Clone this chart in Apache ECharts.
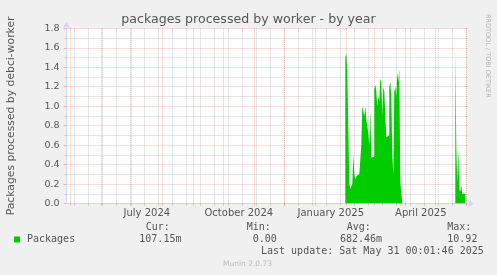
<!DOCTYPE html>
<html><head><meta charset="utf-8">
<script src="https://cdn.jsdelivr.net/npm/echarts@6/dist/echarts.min.js"></script>
<style>html,body{margin:0;padding:0;background:#F0F0F0}#c{width:497px;height:275px}</style>
</head><body><div id="c"></div>
<script>
const DAY = 86400000;
function utc(s){const p=s.split('-').map(Number);return Date.UTC(p[0],p[1]-1,p[2]);}

// Daily averages, first block starting 2025-01-31
const block1Start = '2025-01-31';
const block1Values = [1.5,1.55,1.34,1.32,0.2,0.15,0.14,0.2,0.5,0.3,
  0.25,0.28,0.26,0.3,0.28,0.32,0.6,1.0,0.95,0.9,
  1.0,0.85,0.8,0.72,0.6,0.95,0.47,0.46,0.48,1.18,
  1.22,1.15,1.0,1.1,1.05,1.28,1.25,0.9,1.2,1.15,
  0.9,0.68,0.66,0.7,1.2,1.25,1.1,0.5,0.3,1.15,
  1.2,1.1,1.35,1.25,1.38,0.22];
// Second block starting 2025-05-21
const block2Start = '2025-05-21';
const block2Values = [1.6,0.57,0.22,0.55,0.15,0.12,0.18,0.1,0.08,0.1];

const seriesName = 'Packages';
const titleText = 'packages processed by worker - by year';
const yName = 'Packages processed by debci-worker';
const yMin = 0, yMax = 1.8, yStep = 0.2;
const xLabelNames = ['July 2024','October 2024','January 2025','April 2025'];
const xLabelMonths = ['2024-07-01','2024-10-01','2025-01-01','2025-04-01'];
const statHeads = ['Cur:','Min:','Avg:','Max:'];
const statValues = ['107.15m','0.00','682.46m','10.92'];
const lastUpdate = 'Last update: Sat May 31 00:01:46 2025';

// axis range: ~401 days
const firstMonth = '2024-05-01';
const xMin = utc(firstMonth) - 3.8*DAY;
const xMax = xMin + 401*DAY;

function buildBlock(start, vals){
  const t0 = utc(start);
  const out = vals.map((v,i)=>[t0+i*DAY, v]);
  out.push([t0+vals.length*DAY, vals[vals.length-1]]);
  return out;
}
const b1 = buildBlock(block1Start, block1Values);
const b2 = buildBlock(block2Start, block2Values);
const data = b1.concat([[b1[b1.length-1][0]+DAY, null]], b2);

// grid positions
const monthStarts = [];
for (let i=0;i<14;i++){ monthStarts.push(Date.UTC(2024,4+i,1)); }
const biweekly = [];
for (let t=utc('2024-05-05'); t<xMax; t+=14*DAY){ biweekly.push(t); }
const labelTs = xLabelMonths.map(s=>utc(s)+15.5*DAY);

const RED = 'rgba(235,90,90,0.42)';
const GREY = 'rgba(140,140,140,0.42)';
const AXIS = '#CFD6F8';
const FONT = '#555';

const chart = echarts.init(document.getElementById('c'));
const statX = [[145.7,139.3],[246.7,252.7],[346.7,340],[447.3,447.3]];
const graphics = [];
statHeads.forEach((h,i)=>{
  graphics.push({type:'text', x:statX[i][0], y:227.7, style:{text:h, font:'10px "DejaVu Sans Mono"', fill:FONT, textVerticalAlign:'middle'}});
  graphics.push({type:'text', x:statX[i][1], y:239.5, style:{text:statValues[i], font:'10px "DejaVu Sans Mono"', fill:FONT, textVerticalAlign:'middle'}});
});
graphics.push({type:'text', x:261, y:251, style:{text:lastUpdate, font:'10px "DejaVu Sans Mono"', fill:FONT, textVerticalAlign:'middle'}});
graphics.push({type:'text', x:223, y:264.5, style:{text:'Munin 2.0.73', font:'7.5px "DejaVu Sans"', fill:'#bbb', textVerticalAlign:'middle'}});
graphics.push({type:'text', x:488, y:14, rotation:-Math.PI/2, style:{text:'RRDTOOL / TOBI OETIKER', font:'6.5px "DejaVu Sans"', fill:'#b4b4b4', textVerticalAlign:'middle'}});

chart.setOption({
  backgroundColor:'#F0F0F0',
  animation:false,
  title:{text:titleText, left:'center', top:13.5, padding:0, textStyle:{fontFamily:'DejaVu Sans', fontSize:12.6, fontWeight:'normal', color:FONT}},
  legend:{data:[seriesName], left:14, top:234.5, padding:0, icon:'rect', itemWidth:6, itemHeight:6, itemGap:0,
    textStyle:{fontFamily:'DejaVu Sans Mono', fontSize:10, color:FONT, padding:[0,0,0,2]}},
  grid:{left:66.5, right:29.5, top:28.3, bottom:71.5, show:true, backgroundColor:'#FFFFFF', borderWidth:0, outerBoundsMode:'none'},
  graphic: graphics,
  xAxis:[
    {type:'value', min:xMin, max:xMax, position:'bottom',
     axisLine:{show:false},
     axisTick:{show:true, length:2, customValues:biweekly, lineStyle:{color:GREY}},
     axisLabel:{show:false},
     splitLine:{show:true, lineStyle:{color:GREY, type:[1,1]}}},
    {type:'value', min:xMin, max:xMax, position:'bottom',
     axisLine:{show:true, onZero:false, lineStyle:{color:AXIS}, symbol:['none','arrow'], symbolSize:[6,6], symbolOffset:[0,6]},
     axisTick:{show:true, length:2, customValues:monthStarts, lineStyle:{color:RED}},
     axisLabel:{show:true, customValues:labelTs, margin:4.5, fontFamily:'DejaVu Sans', fontSize:10, color:FONT,
       formatter:function(v){let bi=0,bd=Infinity;labelTs.forEach((t,i)=>{const d=Math.abs(t-v);if(d<bd){bd=d;bi=i;}});return xLabelNames[bi];}},
     splitLine:{show:true, lineStyle:{color:RED, type:[1,1]}}}
  ],
  yAxis:{type:'value', min:yMin, max:yMax, interval:yStep,
    name:yName, nameLocation:'middle', nameGap:50, nameRotate:90,
    nameTextStyle:{fontFamily:'DejaVu Sans', fontSize:10.8, color:FONT},
    axisLine:{show:true, lineStyle:{color:AXIS}, symbol:['none','arrow'], symbolSize:[6,6], symbolOffset:[0,6]},
    axisTick:{show:true, length:3, lineStyle:{color:RED}},
    minorTick:{show:true, splitNumber:2, length:2, lineStyle:{color:GREY}},
    splitLine:{show:true, lineStyle:{color:RED, type:[1,1]}},
    minorSplitLine:{show:true, lineStyle:{color:GREY, type:[1,1]}},
    axisLabel:{fontFamily:'DejaVu Sans', fontSize:9.5, color:FONT, margin:7, formatter:v=>v.toFixed(1)}},
  series:[{name:seriesName, type:'line', xAxisIndex:1, step:'end', data:data, showSymbol:false, connectNulls:false,
    itemStyle:{color:'#00CC00'}, lineStyle:{width:0, color:'#00CC00'}, areaStyle:{color:'#00CC00', opacity:1}}]
});
</script></body></html>
